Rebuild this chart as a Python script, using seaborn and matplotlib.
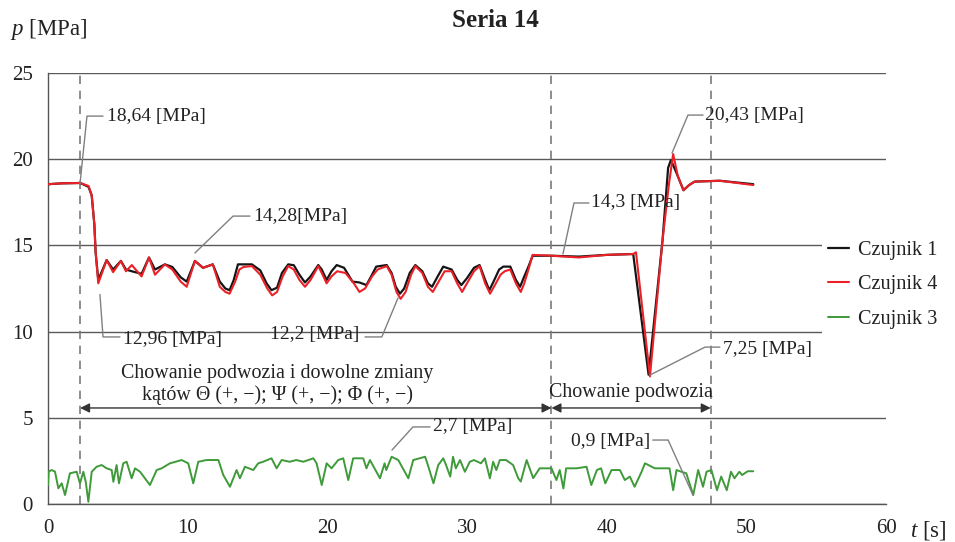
import matplotlib
matplotlib.use("Agg")
import matplotlib.pyplot as plt
import seaborn as sns
import pandas as pd

# ---------------- data ----------------
# Czujnik 1 (black)
t1 = [0, 1.0, 2.3, 2.9, 3.13, 3.32, 3.41, 3.6, 4.2, 4.66,
      5.22, 5.58, 6.0, 6.7, 7.23, 7.66, 8.37, 8.9, 9.5, 9.93,
      10.52, 11.1, 11.8,
      12.3, 12.7, 13.0, 13.3, 13.6, 14.6, 15.2, 15.65, 16.0, 16.4,
      16.75, 17.2, 17.6, 18.0, 18.4, 18.8, 19.35, 19.6, 19.95, 20.3,
      20.67, 21.2, 21.8, 22.3, 22.8, 23.2, 23.5, 24.25, 24.6, 24.9,
      25.2, 25.5, 25.9, 26.3, 26.8, 27.2, 27.5, 27.9, 28.3, 28.9,
      29.3, 29.6, 30.0, 30.5, 30.9, 31.3, 31.6, 31.9, 32.3, 32.6,
      33.1, 33.5, 33.8, 34.1, 34.4, 34.7,
      36.1, 38.0, 40.0, 41.9, 43.0, 44.0, 44.4, 44.6, 45.0, 45.5,
      45.9, 46.3, 48.1, 50.5]
p1 = [18.55, 18.6, 18.62, 18.4, 17.9, 16.2, 14.6, 13.0, 14.15, 13.6,
      14.1, 13.6, 13.5, 13.35, 14.3, 13.6, 13.9, 13.75, 13.15, 12.9,
      14.1, 13.7, 13.9,
      12.9, 12.5, 12.4, 13.0, 13.9, 13.9, 13.55, 12.8, 12.4, 12.55,
      13.4, 13.9, 13.85, 13.3, 12.85, 13.2, 13.86, 13.6, 13.0, 13.5,
      13.86, 13.7, 12.9, 12.85, 12.7, 13.3, 13.77, 13.86, 13.4, 12.6,
      12.2, 12.5, 13.4, 13.86, 13.5, 12.8, 12.6, 13.2, 13.77, 13.6,
      13.0, 12.7, 13.1, 13.7, 13.86, 13.0, 12.4, 12.9, 13.6, 13.77,
      13.77, 13.0, 12.6, 13.2, 13.77, 14.4,
      14.4, 14.35, 14.45, 14.5, 7.5, 15.3, 19.5, 19.95, 19.2, 18.2,
      18.5, 18.7, 18.75, 18.55]

# Czujnik 4 (red)
t4 = [0, 1.0, 2.3, 2.9, 3.13, 3.32, 3.41, 3.6, 4.2, 4.66,
      5.22, 5.58, 6.0, 6.7, 7.23, 7.66, 8.37, 8.9, 9.5, 9.93,
      10.52, 11.1, 11.8,
      12.3, 12.7, 13.0, 13.4, 13.7, 14.0, 14.6, 15.2, 15.7, 16.05,
      16.4, 16.8, 17.2, 17.6, 18.0, 18.4, 18.8, 19.35, 19.6, 19.95,
      20.3, 20.7, 21.3, 21.9, 22.3, 22.7, 23.2, 23.6, 24.25, 24.6,
      24.95, 25.25, 25.6, 26.0, 26.3, 26.8, 27.2, 27.55, 27.9, 28.4,
      28.9, 29.3, 29.65, 30.0, 30.5, 30.9, 31.3, 31.65, 32.0, 32.4,
      32.7, 33.1, 33.5, 33.85, 34.1, 34.4, 34.7,
      36.1, 38.0, 40.0, 41.9, 42.1, 43.1, 44.0, 44.45, 44.76, 45.1,
      45.5, 45.9, 46.3, 48.1, 50.5]
p4 = [18.55, 18.6, 18.62, 18.45, 17.9, 16.2, 14.6, 12.8, 14.15, 13.45,
      14.1, 13.5, 13.86, 13.2, 14.3, 13.3, 13.9, 13.6, 12.9, 12.6,
      14.1, 13.7, 13.9,
      12.6, 12.3, 12.2, 12.9, 13.6, 13.75, 13.8, 13.3, 12.5, 12.1,
      12.3, 13.2, 13.8, 13.6, 13.0, 12.6, 13.0, 13.8, 13.4, 12.8,
      13.2, 13.5, 13.4, 12.8, 12.3, 12.5, 13.2, 13.6, 13.8, 13.3,
      12.3, 11.9, 12.3, 13.3, 13.8, 13.4, 12.6, 12.3, 12.8, 13.5,
      13.5, 12.8, 12.3, 12.8, 13.5, 13.8, 12.8, 12.2, 12.7, 13.3,
      13.5, 13.6, 12.8, 12.3, 12.8, 13.6, 14.45,
      14.4, 14.3, 14.45, 14.5, 14.6, 7.4, 15.3, 18.5, 20.3, 19.0,
      18.2, 18.5, 18.7, 18.75, 18.5]

# Czujnik 3 (green)
t3 = [0, 0.05, 0.26, 0.5, 0.74, 0.98, 1.22, 1.57, 2.05, 2.29,
      2.53, 2.7, 2.89, 3.13, 3.48, 3.84, 4.2, 4.56, 4.68, 4.91,
      5.08, 5.39, 5.63, 5.99, 6.23, 6.59, 7.3, 7.78, 8.14, 8.73,
      9.57, 10.04, 10.4, 10.76, 11.36, 12.2, 12.55, 13.03, 13.5, 13.74,
      14.1, 14.7, 15.05, 15.4, 16.0, 16.37, 16.73, 17.3, 17.78, 18.28,
      19.0, 19.23, 19.6, 19.95, 20.3, 20.78, 21.14, 21.5, 21.85, 22.57,
      22.8, 23.05, 23.77, 24.1, 24.22, 24.6, 25.08, 25.8, 26.15, 26.6,
      27.0, 27.2, 27.6, 27.94, 28.3, 28.5, 28.8, 29.0, 29.2, 29.5,
      29.85, 30.2, 30.5, 31.0, 31.28, 31.64, 31.87, 32.1, 32.35, 32.8,
      33.3, 33.67, 33.85, 34.27, 34.74, 35.2, 36.05, 36.4, 36.64, 36.9,
      37.1, 37.85, 38.56, 38.9, 39.3, 39.6, 39.9, 40.35, 40.95, 41.3,
      41.66, 42.0, 42.5, 42.74, 43.45, 44.5, 44.76, 45.0, 45.35, 45.7,
      46.2, 46.55, 46.9, 47.15, 47.5, 47.9, 48.2, 48.6, 48.9, 49.15,
      49.5, 49.7, 50.1, 50.5]
p3 = [1.1, 1.88, 1.97, 1.88, 0.91, 1.2, 0.52, 1.78, 1.87, 1.2,
      1.87, 1.3, 0.13, 1.87, 2.16, 2.26, 2.07, 1.97, 1.29, 2.26,
      1.2, 2.36, 2.45, 1.49, 2.07, 1.87, 1.1, 1.97, 2.07, 2.36,
      2.55, 2.36, 1.2, 2.45, 2.55, 2.55, 1.68, 1.0, 1.97, 1.49,
      2.16, 1.97, 2.36, 2.45, 2.65, 2.07, 2.55, 2.45, 2.55, 2.45,
      2.65, 2.36, 1.1, 2.36, 2.07, 2.55, 2.65, 1.39, 2.65, 2.65,
      2.07, 2.55, 1.49, 2.36, 1.97, 2.74, 2.55, 1.49, 2.55, 2.65,
      2.74, 2.26, 1.2, 2.26, 2.65, 2.26, 1.59, 2.74, 2.07, 2.55,
      1.87, 2.45, 2.55, 2.36, 2.65, 1.49, 2.45, 1.97, 2.55, 2.55,
      2.26, 1.49, 1.3, 2.55, 1.5, 2.07, 2.07, 1.39, 1.97, 0.9,
      2.07, 2.07, 2.16, 1.1, 1.97, 2.07, 1.2, 1.97, 1.97, 1.39,
      1.59, 1.0, 1.87, 2.36, 2.07, 2.07, 0.8, 1.97, 1.87, 1.78,
      0.52, 1.97, 1.0, 1.87, 1.97, 0.8, 1.59, 0.8, 1.87, 1.49,
      1.87, 1.68, 1.9, 1.9]

series_names = ["Czujnik 1", "Czujnik 4", "Czujnik 3"]
phase_bounds = [2.3, 36.05, 47.45]
phase_labels = ["Chowanie podwozia i dowolne zmiany\nkątów Θ (+, −); Ψ (+, −); Φ (+, −)",
                "Chowanie podwozia"]
x_ticks = [0, 10, 20, 30, 40, 50, 60]
y_ticks = [0, 5, 10, 15, 20, 25]

ann_texts = ["18,64 [MPa]", "14,28[MPa]", "12,96 [MPa]", "12,2 [MPa]",
             "14,3 [MPa]", "20,43 [MPa]", "7,25 [MPa]", "2,7 [MPa]", "0,9 [MPa]"]

# ---------------- style ----------------
sns.set_style("white")
plt.rcParams["font.family"] = ["Liberation Serif", "DejaVu Serif"]
plt.rcParams["mathtext.fontset"] = "custom"
plt.rcParams["mathtext.rm"] = "Liberation Serif"
plt.rcParams["mathtext.it"] = "Liberation Serif:italic"

FS_TICK = 15
FS_ANN = 14
FS_LEG = 14.6
TXT = "#222222"

fig = plt.figure(figsize=(9.55, 5.42), dpi=100)
ax = fig.add_axes([48 / 955, 1 - 504 / 542, (886 - 48) / 955, (504 - 73) / 542])

df1 = pd.DataFrame({"t": t1, "p": p1})
df4 = pd.DataFrame({"t": t4, "p": p4})
df3 = pd.DataFrame({"t": t3, "p": p3})

sns.lineplot(data=df1, x="t", y="p", ax=ax, color="#151515", lw=1.6,
             label=series_names[0], estimator=None, zorder=4)
sns.lineplot(data=df4, x="t", y="p", ax=ax, color="#ec2027", lw=1.5,
             label=series_names[1], estimator=None, zorder=5)
sns.lineplot(data=df3, x="t", y="p", ax=ax, color="#3f9a3a", lw=1.4,
             label=series_names[2], estimator=None, zorder=4)
for ln in ax.get_lines():
    ln.set_solid_joinstyle("round")

ax.set_xlim(0, 60)
ax.set_ylim(0, 25)
ax.set_xticks(x_ticks)
ax.set_yticks(y_ticks)
ax.set_xlabel("")
ax.set_ylabel("")
ax.tick_params(axis="both", direction="out", length=8, width=1, color="#555555",
               labelsize=FS_TICK, labelcolor=TXT, pad=3)
for s in ["top", "right"]:
    ax.spines[s].set_visible(False)
for s in ["left", "bottom"]:
    ax.spines[s].set_color("#555555")
    ax.spines[s].set_linewidth(1.0)
ax.yaxis.grid(True, color="#5a5a5a", lw=1.0)
ax.xaxis.grid(False)
ax.set_axisbelow(True)

# phase boundaries (dashed)
for xb in phase_bounds:
    ax.axvline(xb, color="#7a7a7a", lw=1.2, ls=(0, (5, 4)), zorder=2)

# double arrows
arrow_y = 5.57
for a, b in zip(phase_bounds[:-1], phase_bounds[1:]):
    ax.annotate("", xy=(b, arrow_y), xytext=(a, arrow_y),
                arrowprops=dict(arrowstyle="<|-|>", color="#333333", lw=1.0,
                                mutation_scale=14, shrinkA=0, shrinkB=0), zorder=6)
ax.text(16.4, 6.93, phase_labels[0], ha="center", va="center", fontsize=14.4,
        color=TXT, linespacing=1.2)
ax.text(41.74, 6.45, phase_labels[1], ha="center", va="center", fontsize=14.4,
        color=TXT)

# callouts: (point, elbow, end, text position, ha)
callouts = [
    ((2.29, 18.56), (2.79, 22.5), (3.94, 22.5), (4.2, 22.5), "left"),
    ((10.52, 14.56), (13.25, 16.7), (14.46, 16.7), (14.66, 16.7), "left"),
    ((3.72, 12.15), (3.94, 9.69), (5.15, 9.69), (5.35, 9.55), "left"),
    ((25.06, 11.95), (23.9, 9.69), (22.7, 9.69), (22.3, 9.85), "right"),
    ((36.87, 14.5), (37.66, 17.46), (38.73, 17.46), (38.9, 17.46), "left"),
    ((44.68, 20.36), (45.82, 22.56), (46.9, 22.56), (47.05, 22.56), "left"),
    ((43.1, 7.48), (47.04, 9.1), (48.1, 9.1), (48.35, 8.95), "left"),
    ((24.63, 3.13), (26.13, 4.47), (27.35, 4.47), (27.6, 4.47), "left"),
    ((46.18, 0.52), (44.4, 3.71), (43.3, 3.71), (43.1, 3.65), "right"),
]
for txt, (pt, el, en, tp, ha) in zip(ann_texts, callouts):
    ax.plot([pt[0], el[0], en[0]], [pt[1], el[1], en[1]], color="#808080",
            lw=1.0, zorder=6, clip_on=False)
    ax.text(tp[0], tp[1], txt, ha=ha, va="center", fontsize=FS_ANN, color=TXT,
            zorder=7)

# legend
leg = ax.legend(loc="upper left", bbox_to_anchor=(0.861, 0.567),
                bbox_transform=fig.transFigure, fontsize=FS_LEG, frameon=True,
                fancybox=False, edgecolor="none", facecolor="white", framealpha=1,
                borderpad=0.3, borderaxespad=0, handlelength=1.0,
                handletextpad=0.45, labelspacing=0.75)
for t in leg.get_texts():
    t.set_color(TXT)

# titles / labels
fig.text(0.519, 0.963, "Seria 14", ha="center", va="center", fontsize=18,
         fontweight="bold", color=TXT)
fig.text(10 / 955, 1 - 30 / 542, "$p$ [MPa]", ha="left", va="center",
         fontsize=16.5, color=TXT)
fig.text(910 / 955, 1 - 531 / 542, "$t$ [s]", ha="left", va="center",
         fontsize=16.5, color=TXT)

fig.savefig("out.png", dpi=100)
